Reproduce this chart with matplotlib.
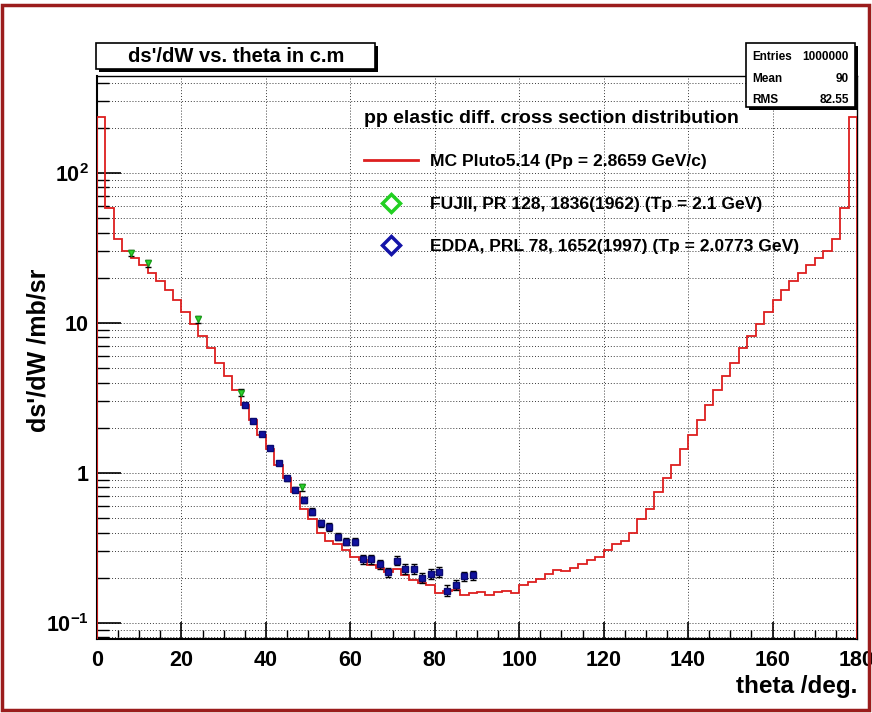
import numpy as np
import matplotlib
matplotlib.use('Agg')
import matplotlib.pyplot as plt
from matplotlib.lines import Line2D
from matplotlib.patches import Rectangle
from matplotlib.ticker import FixedLocator, FixedFormatter, LogLocator, MultipleLocator, NullFormatter

plt.rcParams['font.family'] = ['Liberation Sans', 'DejaVu Sans']
plt.rcParams['font.weight'] = 'bold'
plt.rcParams['mathtext.fontset'] = 'custom'
plt.rcParams['mathtext.rm'] = 'Liberation Sans:bold'
plt.rcParams['mathtext.it'] = 'Liberation Sans:bold'
plt.rcParams['mathtext.bf'] = 'Liberation Sans:bold'

# MC Pluto histogram, 2 deg bins from 0 to 180
bin_edges = np.arange(0, 181, 2)
mc_values = [
    236, 58.5, 36, 30, 27, 24.4, 21.5, 19, 16.6, 14.2,
    11.8, 9.85, 8.2, 6.8, 5.4, 4.43, 3.57, 2.84, 2.25, 1.79,
    1.45, 1.13, 0.93, 0.74, 0.575, 0.49, 0.40, 0.35, 0.336, 0.307,
    0.275, 0.263, 0.244, 0.233, 0.219, 0.228, 0.209, 0.194, 0.185, 0.179,
    0.158, 0.163, 0.166, 0.154, 0.158, 0.160, 0.154, 0.160, 0.163, 0.158,
    0.179, 0.186, 0.195, 0.210, 0.226, 0.220, 0.233, 0.245, 0.262, 0.276,
    0.307, 0.335, 0.350, 0.40, 0.49, 0.575, 0.74, 0.93, 1.13, 1.45,
    1.79, 2.25, 2.84, 3.57, 4.43, 5.4, 6.8, 8.2, 9.85, 11.8,
    14.2, 16.6, 19, 21.5, 24.4, 27, 30, 36, 58.5, 236,
]

# FUJII 1962 data
fujii_theta = [8, 12, 24, 34, 48.6]
fujii_val = [29.3, 25.0, 10.6, 3.43, 0.80]
fujii_err = [1.4, 1.3, 0.55, 0.18, 0.045]

# EDDA 1997 data
edda_theta = [35, 37, 39, 41, 43, 45, 47, 49, 51, 53, 55, 57, 59, 61,
              63, 65, 67, 69, 71, 73, 75, 77, 79, 81, 83, 85, 87, 89]
edda_val = [2.84, 2.22, 1.82, 1.46, 1.16, 0.92, 0.77, 0.66, 0.552, 0.462, 0.435, 0.376, 0.348, 0.348,
            0.266, 0.266, 0.246, 0.217, 0.260, 0.229, 0.229, 0.200, 0.212, 0.218, 0.164, 0.179, 0.204, 0.207]
edda_err = [0.09, 0.07, 0.06, 0.05, 0.04, 0.035, 0.03, 0.03, 0.028, 0.025, 0.025, 0.022, 0.02, 0.02,
            0.018, 0.018, 0.017, 0.016, 0.018, 0.016, 0.016, 0.015, 0.015, 0.016, 0.014, 0.014, 0.015, 0.015]

y_ticks = [0.1, 1, 10, 100]
y_tick_labels = [r'$10^{-1}$', '1', '10', r'$10^{2}$']
x_ticks = [0, 20, 40, 60, 80, 100, 120, 140, 160, 180]

stats_names = ['Entries', 'Mean', 'RMS']
stats_values = ['1000000', '90', '82.55']

W, H = 872, 713
fig = plt.figure(figsize=(W / 100, H / 100), dpi=100)
ax = fig.add_axes([97 / W, 1 - 639 / H, 760 / W, 563 / H])
ax.set_yscale('log')
ymin, ymax = 0.078, 443
ax.set_xlim(0, 180)
ax.set_ylim(ymin, ymax)

ax.stairs(mc_values, bin_edges, baseline=ymin, color='#dd1f1f', lw=1.3, zorder=3)
ax.errorbar(fujii_theta, fujii_val, yerr=fujii_err, fmt='v', color='#2ed62e', mec='#1aa01a',
            ms=5, ecolor='black', elinewidth=1, capsize=2.5, zorder=4)
ax.errorbar(edda_theta, edda_val, yerr=edda_err, fmt='s', color='#1212a0', mec='#0a0a70',
            ms=4.5, ecolor='black', elinewidth=1, capsize=2.5, zorder=5)

# ticks
ax.xaxis.set_major_locator(FixedLocator(x_ticks))
ax.xaxis.set_minor_locator(MultipleLocator(5))
ax.yaxis.set_major_locator(FixedLocator(y_ticks))
ax.yaxis.set_major_formatter(FixedFormatter(y_tick_labels))
ax.yaxis.set_minor_locator(LogLocator(base=10, subs=np.arange(2, 10)))
ax.yaxis.set_minor_formatter(NullFormatter())
ax.tick_params(axis='both', which='both', direction='in', top=False, right=False,
               labelsize=15.5, color='black')
ax.tick_params(axis='y', which='major', length=17, width=1.2, pad=6)
ax.tick_params(axis='y', which='minor', length=8.5, width=1.0)
ax.tick_params(axis='x', which='major', length=12, width=1.2, pad=8)
ax.tick_params(axis='x', which='minor', length=6.5, width=1.0)
for lab in ax.get_xticklabels() + ax.get_yticklabels():
    lab.set_fontweight('bold')

ax.grid(True, axis='x', which='major', ls=(0, (1, 2)), color='#3a3a3a', lw=0.7)
ax.grid(True, axis='y', which='both', ls=(0, (1, 2)), color='#3a3a3a', lw=0.7)
ax.set_axisbelow(True)
for s in ['left', 'bottom']:
    ax.spines[s].set_linewidth(1.5)
for s in ['top', 'right']:
    ax.spines[s].set_linewidth(1.0)

# legend
handles = [
    Line2D([], [], color='#dd1f1f', lw=2),
    Line2D([], [], ls='none', marker='D', ms=9, mfc='white', mec='#22d022', mew=2.5),
    Line2D([], [], ls='none', marker='D', ms=9, mfc='white', mec='#1414a8', mew=2.5),
]
labels = ['MC Pluto5.14 (Pp = 2.8659 GeV/c)',
          'FUJII, PR 128, 1836(1962) (Tp = 2.1 GeV)',
          'EDDA, PRL 78, 1652(1997) (Tp = 2.0773 GeV)']
leg = ax.legend(handles, labels, title='pp elastic diff. cross section distribution',
                loc='upper left', bbox_to_anchor=(364 / W, 1 - 110 / H),
                bbox_transform=fig.transFigure, frameon=False, fontsize=12.6,
                title_fontproperties={'size': 14, 'weight': 'bold'},
                handlelength=3.1, handletextpad=0.65, labelspacing=1.55,
                borderpad=0, borderaxespad=0, alignment='left')
for t in leg.get_texts():
    t.set_fontweight('bold')

# axis titles
fig.text(857 / W, 1 - 687 / H, 'theta /deg.', ha='right', va='center',
         fontsize=17.5, fontweight='bold')
fig.text(39 / W, 1 - 350 / H, "ds'/dW /mb/sr", ha='center', va='center',
         rotation=90, fontsize=18, fontweight='bold')

# title box with shadow
def shadow_box(x0, y0, x1, y1):
    fig.patches.append(Rectangle(((x0 + 3) / W, 1 - (y1 + 3) / H), (x1 - x0) / W, (y1 - y0) / H,
                                 transform=fig.transFigure, fc='black', ec='none', zorder=5))
    fig.patches.append(Rectangle((x0 / W, 1 - y1 / H), (x1 - x0) / W, (y1 - y0) / H,
                                 transform=fig.transFigure, fc='white', ec='black', lw=1.2, zorder=6))

shadow_box(96, 43, 375, 69)
fig.text(236 / W, 1 - 57 / H, "ds'/dW vs. theta in c.m", ha='center', va='center',
         fontsize=14.5, fontweight='bold', zorder=7)

# stats box
shadow_box(746, 43, 855, 107)
for i, (nm, val) in enumerate(zip(stats_names, stats_values)):
    yy = 1 - (57 + 21.5 * i) / H
    fig.text(752 / W, yy, nm, ha='left', va='center', fontsize=8.5, fontweight='bold', zorder=7)
    fig.text(849 / W, yy, val, ha='right', va='center', fontsize=8.5, fontweight='bold', zorder=7)

# canvas border
fig.patches.append(Rectangle((2 / W, 3 / H), 867 / W, 705 / H, transform=fig.transFigure,
                             fill=False, ec='#9b1c1c', lw=2.5, zorder=10))

fig.savefig('out.png', dpi=100)
